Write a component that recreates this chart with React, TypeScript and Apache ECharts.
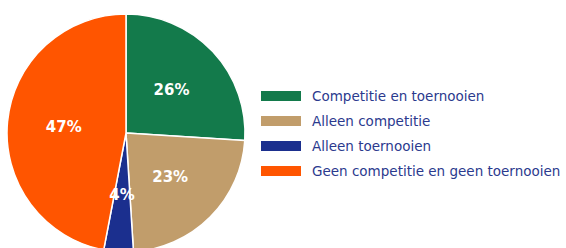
import React, { useEffect, useRef } from "react";
import * as echarts from "echarts";

const categories = [
  "Competitie en toernooien",
  "Alleen competitie",
  "Alleen toernooien",
  "Geen competitie en geen toernooien",
];
const values = [26, 23, 4, 47];
const colors = ["#137a4b", "#c19d6b", "#1b2f8e", "#ff5500"];

export default function App() {
  const ref = useRef<HTMLDivElement>(null);
  useEffect(() => {
    document.body.style.margin = "0";
    const chart = echarts.init(ref.current!, null, { renderer: "svg" });
    chart.setOption({
      animation: false,
      legend: {
        orient: "vertical",
        left: 259,
        top: 89,
        padding: 0,
        icon: "rect",
        itemWidth: 42,
        itemHeight: 12,
        itemGap: 11,
        textStyle: {
          fontFamily: "DejaVu Sans",
          fontSize: 13.5,
          color: "#2b3a8e",
          padding: [0, 0, 0, 5],
        },
        data: categories,
      },
      series: [
        {
          type: "pie",
          center: [126, 133],
          radius: [0, 119],
          startAngle: 90,
          clockwise: true,
          itemStyle: { borderColor: "#ffffff", borderWidth: 1.5 },
          label: {
            show: true,
            position: "inside",
            formatter: "{c}%",
            color: "#ffffff",
            fontFamily: "DejaVu Sans",
            fontWeight: "bold",
            fontSize: 15,
          },
          labelLine: { show: false },
          emphasis: { disabled: true },
          data: categories.map((name, i) => ({
            name,
            value: values[i],
            itemStyle: { color: colors[i] },
          })),
        },
      ],
    });
    return () => chart.dispose();
  }, []);
  return <div ref={ref} style={{ width: 566, height: 248 }} />;
}
